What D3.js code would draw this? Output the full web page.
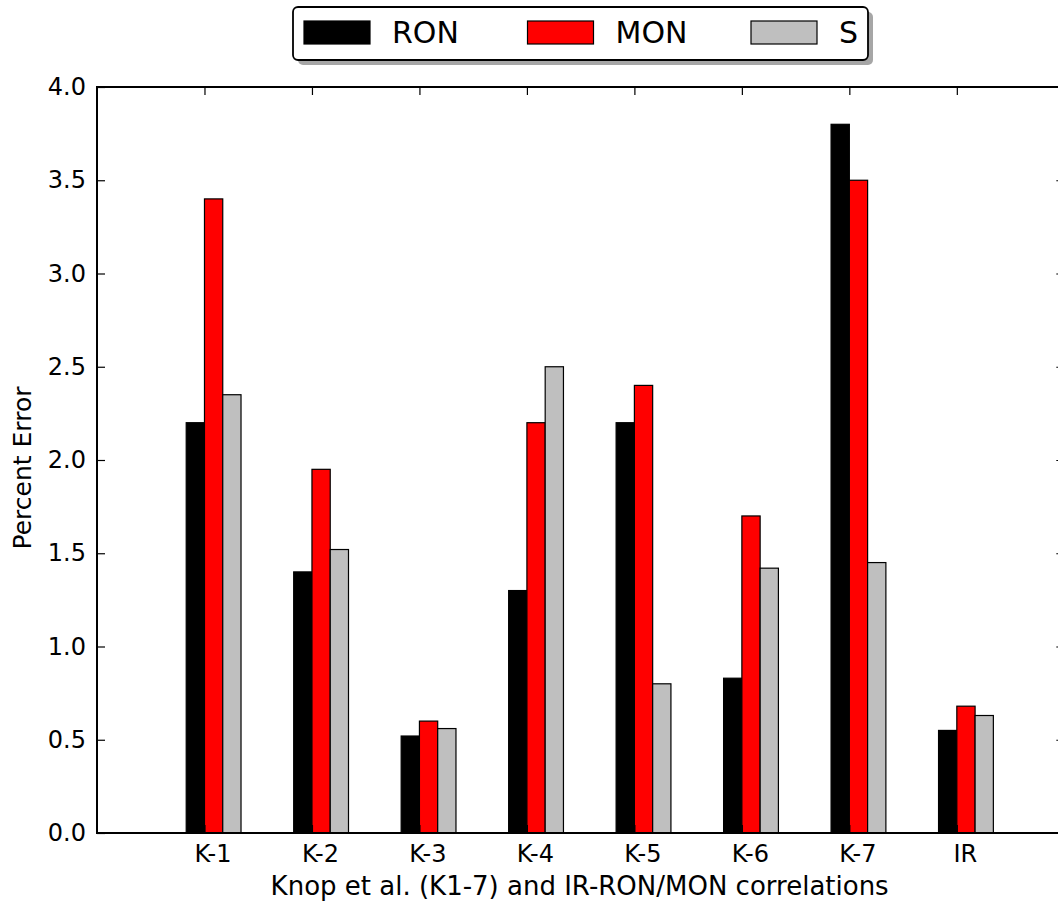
<!DOCTYPE html>
<html>
<head>
<meta charset="utf-8">
<script src="https://cdn.jsdelivr.net/npm/d3@7"></script>
<style>
  body { margin: 0; background: #fff; }
  text { font-family: "DejaVu Sans", sans-serif; }
</style>
</head>
<body>
<div id="chart"></div>
<script>
// data
var categories = ["K-1", "K-2", "K-3", "K-4", "K-5", "K-6", "K-7", "IR"];
var ron = [2.2, 1.4, 0.52, 1.3, 2.2, 0.83, 3.8, 0.55];
var mon = [3.4, 1.95, 0.6, 2.2, 2.4, 1.7, 3.5, 0.68];
var sens = [2.35, 1.52, 0.56, 2.5, 0.8, 1.42, 1.45, 0.63];
var seriesNames = ["RON", "MON", "S"];
var seriesColors = ["#000000", "#ff0000", "#bfbfbf"];
var yTicks = [0, 0.5, 1, 1.5, 2, 2.5, 3, 3.5, 4];

var svgWidth = 1058, svgHeight = 907;
var barW = 0.17;

var svg = d3.select("#chart").append("svg")
  .attr("width", svgWidth)
  .attr("height", svgHeight);

var x = d3.scaleLinear()
  .domain([-1 + barW, 8 + barW])
  .range([97, 1064.3]);

var y = d3.scaleLinear()
  .domain([0, 4])
  .range([833, 87]);

var x0 = x.range()[0], x1 = x.range()[1];
var y0 = y.range()[0], y1 = y.range()[1];

// bars
var series = [ron, mon, sens];
series.forEach(function(vals, s) {
  svg.append("g").selectAll("rect")
    .data(vals)
    .enter()
    .append("rect")
    .attr("x", (d, i) => x(i + s * barW))
    .attr("y", d => y(d))
    .attr("width", x(barW) - x(0))
    .attr("height", d => y(0) - y(d))
    .attr("fill", seriesColors[s])
    .attr("stroke", "#000")
    .attr("stroke-width", 1.2);
});

// tick positions sit on the black/red boundary
var tickPos = categories.map((c, i) => i + barW);

// y axes (ticks inward)
var yLeft = d3.axisLeft(y).tickValues(yTicks).tickFormat(d3.format(".1f"))
  .tickSizeInner(-8).tickSizeOuter(0).tickPadding(11);
var gl = svg.append("g").attr("transform", `translate(${x0},0)`).call(yLeft);
gl.select(".domain").remove();
gl.selectAll("text").attr("font-size", "24px").attr("fill", "#000")
  .attr("font-family", "DejaVu Sans");
gl.selectAll("line").attr("stroke-width", 1.2);

var yRight = d3.axisRight(y).tickValues(yTicks).tickFormat("")
  .tickSizeInner(-8).tickSizeOuter(0);
var gr = svg.append("g").attr("transform", `translate(${x1},0)`).call(yRight);
gr.select(".domain").remove();
gr.selectAll("line").attr("stroke-width", 1.2);

// x axes
var xBottom = d3.axisBottom(x).tickValues(tickPos).tickFormat((d, i) => categories[i])
  .tickSizeInner(-8).tickSizeOuter(0).tickPadding(12);
var gb = svg.append("g").attr("transform", `translate(0,${y0})`).call(xBottom);
gb.select(".domain").remove();
gb.selectAll("text").attr("font-size", "24px").attr("fill", "#000")
  .attr("dx", 8).attr("font-family", "DejaVu Sans");
gb.selectAll("line").attr("stroke-width", 1.2);

var xTop = d3.axisTop(x).tickValues(tickPos).tickFormat("")
  .tickSizeInner(-8).tickSizeOuter(0);
var gt = svg.append("g").attr("transform", `translate(0,${y1})`).call(xTop);
gt.select(".domain").remove();
gt.selectAll("line").attr("stroke-width", 1.2);

// frame
svg.append("rect")
  .attr("x", x0).attr("y", y1)
  .attr("width", x1 - x0).attr("height", y0 - y1)
  .attr("fill", "none")
  .attr("stroke", "#000")
  .attr("stroke-width", 2);

// axis labels
svg.append("text")
  .attr("x", (x0 + x1) / 2 - 1)
  .attr("y", 895)
  .attr("text-anchor", "middle")
  .attr("font-size", "26px")
  .text("Knop et al. (K1-7) and IR-RON/MON correlations");

svg.append("text")
  .attr("transform", `translate(31,${(y0 + y1) / 2 + 8}) rotate(-90)`)
  .attr("text-anchor", "middle")
  .attr("font-size", "25px")
  .text("Percent Error");

// legend
var legX = 293, legY = 7, legW = 575, legH = 53;
svg.append("rect")
  .attr("x", legX + 5).attr("y", legY + 5)
  .attr("width", legW).attr("height", legH)
  .attr("rx", 5)
  .attr("fill", "#a6a6a6");
svg.append("rect")
  .attr("x", legX).attr("y", legY)
  .attr("width", legW).attr("height", legH)
  .attr("rx", 5)
  .attr("fill", "#fff")
  .attr("stroke", "#000")
  .attr("stroke-width", 1.8);

var legItems = svg.append("g").selectAll("g")
  .data(seriesNames)
  .enter()
  .append("g")
  .attr("transform", (d, i) => `translate(${legX + 11 + i * 223.5},${legY + 14})`);

legItems.append("rect")
  .attr("width", 66).attr("height", 23)
  .attr("fill", (d, i) => seriesColors[i])
  .attr("stroke", "#000")
  .attr("stroke-width", 1.2);

legItems.append("text")
  .attr("x", 88)
  .attr("y", 22)
  .attr("font-size", "30px")
  .text(d => d);
</script>
</body>
</html>
